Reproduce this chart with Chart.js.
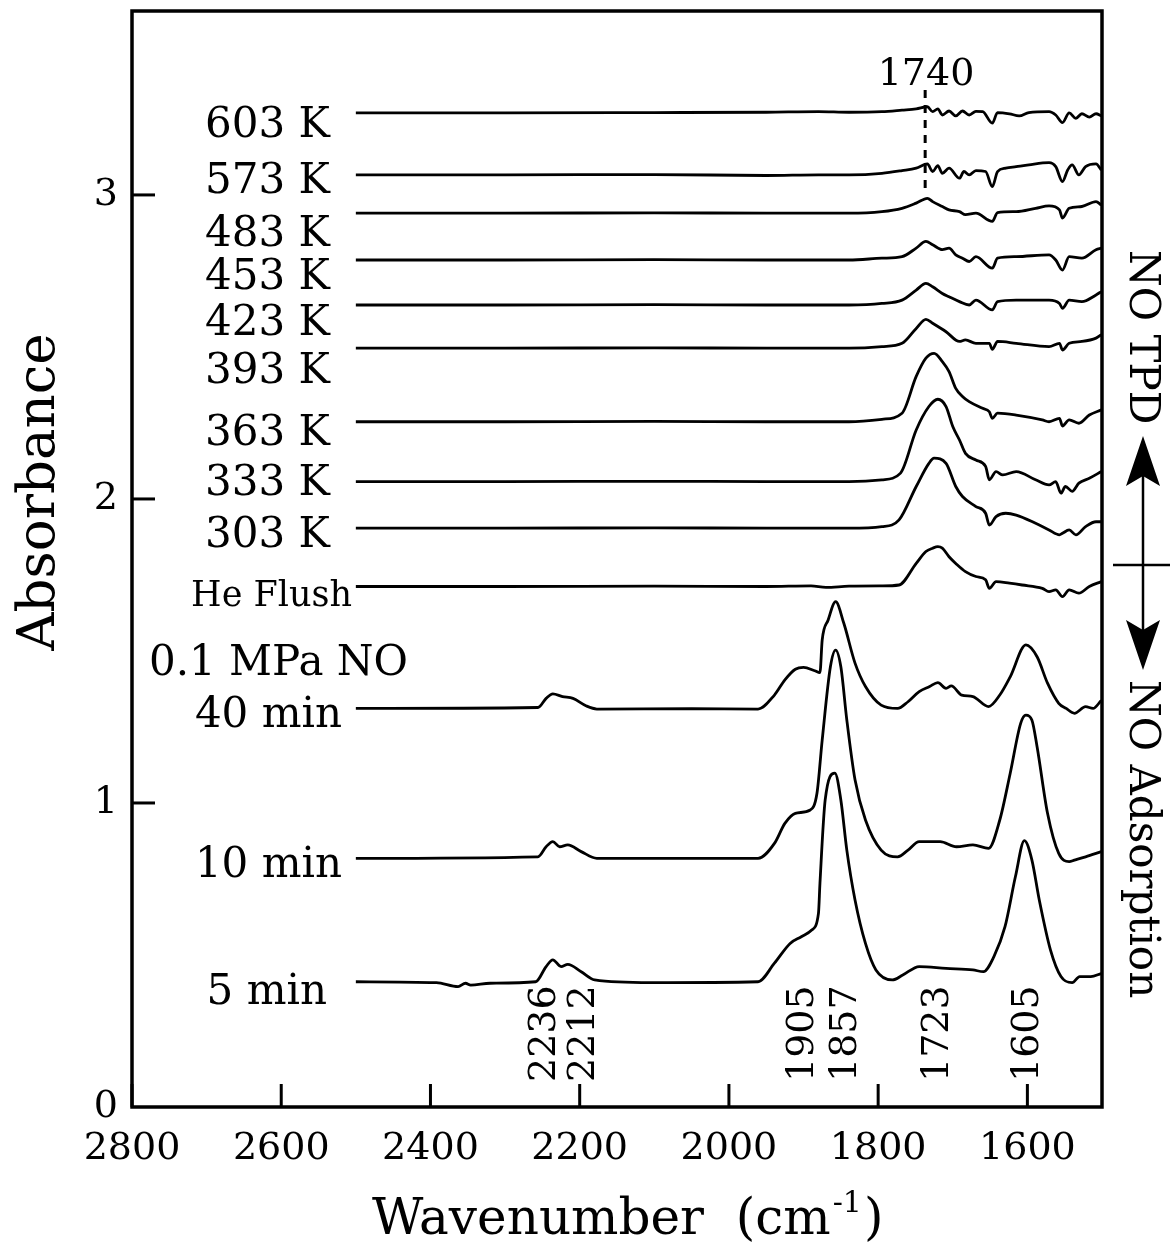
<!DOCTYPE html>
<html>
<head>
<meta charset="utf-8">
<script src="https://cdn.jsdelivr.net/npm/chart.js@4.4.1/dist/chart.umd.min.js"></script>
<style>
  html, body { margin: 0; padding: 0; background: #fff; }
  #wrap { width: 1170px; height: 1254px; }
</style>
</head>
<body>
<div id="wrap"><canvas id="chart" width="1170" height="1254"></canvas></div>
<script>
// axis ticks
const WN_TICKS = [2800, 2600, 2400, 2200, 2000, 1800, 1600];
const ABS_TICKS = [0, 1, 2, 3];

// spectrum names, top to bottom
const SERIES_LABELS = ["603 K", "573 K", "483 K", "453 K", "423 K", "393 K", "363 K",
  "333 K", "303 K", "He Flush", "40 min", "10 min", "5 min"];
const GROUP_LABEL = "0.1 MPa NO";
const PEAK_LABELS = ["2236", "2212", "1905", "1857", "1723", "1605"];

// [wavenumber, absorbance]
const k603 = [[2500,3.270],[2300,3.270],[2100,3.271],[1950,3.272],[1880,3.274],[1839,3.272],[1795,3.274],[1768,3.279],[1749,3.283],[1734,3.290],[1727,3.274],[1720,3.283],[1714,3.263],[1705,3.276],[1696,3.260],[1687,3.276],[1678,3.263],[1669,3.275],[1660,3.274],[1647,3.236],[1640,3.271],[1624,3.267],[1611,3.260],[1598,3.271],[1571,3.274],[1562,3.263],[1553,3.238],[1544,3.270],[1535,3.252],[1527,3.267],[1517,3.256],[1508,3.267],[1501,3.260]];
const k573 = [[2500,3.066],[2300,3.066],[2100,3.067],[1950,3.064],[1880,3.066],[1839,3.066],[1795,3.071],[1768,3.080],[1749,3.088],[1734,3.102],[1727,3.077],[1720,3.096],[1714,3.071],[1705,3.088],[1691,3.055],[1685,3.077],[1678,3.066],[1669,3.080],[1656,3.077],[1647,3.027],[1640,3.077],[1629,3.088],[1615,3.093],[1598,3.099],[1571,3.106],[1562,3.093],[1553,3.044],[1546,3.082],[1540,3.099],[1531,3.066],[1522,3.093],[1508,3.102],[1501,3.082]];
const k483 = [[2500,2.940],[2300,2.940],[2100,2.941],[1950,2.940],[1839,2.940],[1795,2.945],[1768,2.956],[1749,2.973],[1734,2.989],[1727,2.978],[1714,2.962],[1705,2.951],[1691,2.945],[1683,2.935],[1669,2.940],[1647,2.913],[1640,2.942],[1615,2.945],[1589,2.956],[1571,2.964],[1557,2.951],[1553,2.924],[1544,2.956],[1527,2.962],[1508,2.978],[1501,2.967]];
const k453 = [[2500,2.786],[2300,2.786],[2100,2.787],[1950,2.786],[1839,2.786],[1795,2.792],[1768,2.797],[1749,2.825],[1736,2.847],[1727,2.836],[1714,2.820],[1705,2.825],[1696,2.803],[1687,2.792],[1678,2.781],[1669,2.797],[1647,2.759],[1640,2.792],[1615,2.797],[1571,2.803],[1562,2.786],[1553,2.753],[1544,2.797],[1527,2.792],[1508,2.820],[1501,2.825]];
const k423 = [[2500,2.638],[2300,2.638],[2100,2.639],[1950,2.638],[1839,2.638],[1795,2.643],[1768,2.654],[1749,2.687],[1736,2.709],[1727,2.698],[1714,2.676],[1705,2.665],[1691,2.649],[1678,2.638],[1669,2.654],[1647,2.622],[1640,2.649],[1615,2.654],[1571,2.654],[1557,2.643],[1553,2.627],[1544,2.654],[1527,2.649],[1508,2.671],[1501,2.682]];
const k393 = [[2500,2.496],[2300,2.496],[2100,2.497],[1950,2.496],[1839,2.496],[1795,2.501],[1768,2.512],[1749,2.561],[1736,2.591],[1727,2.578],[1709,2.550],[1691,2.518],[1683,2.523],[1669,2.512],[1651,2.512],[1647,2.492],[1640,2.518],[1615,2.512],[1571,2.501],[1557,2.512],[1553,2.490],[1544,2.512],[1527,2.518],[1508,2.529],[1501,2.540]];
const k363 = [[2500,2.254],[2300,2.254],[2100,2.255],[1950,2.254],[1839,2.254],[1795,2.262],[1768,2.282],[1749,2.403],[1736,2.463],[1725,2.479],[1714,2.452],[1705,2.419],[1696,2.364],[1687,2.337],[1678,2.320],[1660,2.298],[1651,2.287],[1647,2.265],[1640,2.282],[1615,2.276],[1580,2.260],[1571,2.254],[1557,2.265],[1553,2.240],[1544,2.260],[1531,2.249],[1517,2.276],[1501,2.293]];
const k333 = [[2500,2.057],[2300,2.057],[2100,2.058],[1950,2.057],[1839,2.057],[1795,2.063],[1770,2.085],[1749,2.227],[1732,2.304],[1720,2.328],[1709,2.304],[1700,2.238],[1691,2.194],[1683,2.150],[1669,2.128],[1656,2.107],[1651,2.063],[1642,2.090],[1633,2.079],[1615,2.090],[1589,2.063],[1571,2.046],[1562,2.057],[1555,2.019],[1549,2.041],[1540,2.025],[1531,2.052],[1517,2.068],[1501,2.090]];
const k303 = [[2500,1.904],[2300,1.904],[2100,1.905],[1950,1.904],[1839,1.904],[1795,1.909],[1772,1.931],[1749,2.041],[1732,2.117],[1725,2.134],[1709,2.117],[1696,2.041],[1687,2.008],[1669,1.975],[1656,1.953],[1651,1.914],[1642,1.942],[1629,1.953],[1615,1.947],[1589,1.920],[1571,1.898],[1557,1.882],[1553,1.887],[1544,1.898],[1535,1.882],[1522,1.909],[1508,1.925],[1501,1.925]];
const heFlush = [[2500,1.712],[2300,1.712],[2100,1.713],[1950,1.712],[1890,1.714],[1870,1.709],[1839,1.713],[1795,1.714],[1772,1.717],[1749,1.788],[1736,1.827],[1727,1.838],[1720,1.843],[1714,1.838],[1705,1.810],[1696,1.788],[1683,1.761],[1669,1.745],[1656,1.734],[1651,1.706],[1642,1.728],[1624,1.723],[1607,1.717],[1580,1.706],[1571,1.695],[1562,1.701],[1553,1.679],[1544,1.701],[1531,1.690],[1517,1.712],[1501,1.728]];
const min40 = [[2500,1.311],[2256,1.314],[2245,1.344],[2236,1.359],[2223,1.350],[2209,1.344],[2191,1.319],[2177,1.309],[2050,1.310],[1961,1.309],[1939,1.355],[1925,1.405],[1911,1.440],[1900,1.446],[1885,1.435],[1878,1.429],[1875,1.536],[1867,1.602],[1857,1.662],[1846,1.591],[1831,1.460],[1817,1.383],[1796,1.322],[1774,1.311],[1760,1.333],[1745,1.366],[1731,1.383],[1720,1.396],[1709,1.377],[1702,1.385],[1688,1.355],[1673,1.350],[1652,1.317],[1637,1.355],[1623,1.415],[1602,1.520],[1587,1.481],[1573,1.394],[1558,1.328],[1548,1.311],[1537,1.295],[1522,1.317],[1512,1.311],[1501,1.337]];
const min10 = [[2500,0.818],[2256,0.823],[2245,0.856],[2236,0.873],[2227,0.856],[2216,0.862],[2198,0.840],[2177,0.818],[2050,0.818],[1961,0.818],[1939,0.867],[1925,0.933],[1911,0.966],[1891,0.977],[1882,1.032],[1875,1.207],[1864,1.448],[1857,1.503],[1850,1.448],[1842,1.273],[1831,1.076],[1817,0.944],[1796,0.845],[1774,0.823],[1760,0.845],[1745,0.873],[1717,0.873],[1695,0.856],[1673,0.862],[1652,0.851],[1637,0.944],[1623,1.098],[1609,1.262],[1602,1.289],[1594,1.273],[1587,1.185],[1573,0.966],[1558,0.834],[1544,0.807],[1537,0.812],[1522,0.823],[1501,0.840]];
const min5 = [[2500,0.412],[2392,0.409],[2363,0.396],[2353,0.407],[2346,0.401],[2320,0.407],[2259,0.412],[2245,0.462],[2236,0.484],[2225,0.462],[2216,0.469],[2198,0.445],[2180,0.418],[2105,0.409],[1961,0.412],[1939,0.473],[1918,0.538],[1903,0.560],[1889,0.582],[1880,0.637],[1878,0.736],[1871,1.010],[1858,1.098],[1850,1.010],[1842,0.845],[1831,0.681],[1817,0.538],[1803,0.451],[1781,0.418],[1767,0.434],[1745,0.462],[1709,0.456],[1673,0.451],[1659,0.445],[1645,0.494],[1630,0.593],[1616,0.758],[1604,0.876],[1594,0.813],[1584,0.680],[1569,0.516],[1555,0.429],[1540,0.409],[1530,0.429],[1515,0.429],[1501,0.439]];

const SPECTRA = [k603, k573, k483, k453, k423, k393, k363, k333, k303, heFlush, min40, min10, min5];
const MARK_1740 = [1737, 3.016, 3.345];   // wavenumber, from, to

const SERIF = "'DejaVu Serif', serif";

// label layout: [right x, baseline y, font size]
const LABEL_LAYOUT = [
  [330,137,42],[330,193,42],[330,246,42],[330,289,42],[330,335,42],[330,383,42],[330,445,42],
  [330,495,42],[330,547,42],[352,606,35],[342,727,42],[342,877,42],[327,1004,42]
];
const PEAK_X = [541, 580, 799, 842, 934, 1024];

function line(ctx, x1, y1, x2, y2) {
  ctx.beginPath(); ctx.moveTo(x1, y1); ctx.lineTo(x2, y2); ctx.stroke();
}

const overlay = {
  id: "overlay",
  afterDatasetsDraw(chart) {
    const { ctx, chartArea: a, scales: { x, y } } = chart;
    ctx.save();
    ctx.strokeStyle = "#000";
    ctx.fillStyle = "#000";

    // frame + inner ticks
    ctx.lineWidth = 3.5;
    ctx.strokeRect(a.left, a.top, a.right - a.left, a.bottom - a.top);
    ctx.lineWidth = 3;
    WN_TICKS.forEach(v => { const px = x.getPixelForValue(v); line(ctx, px, a.bottom, px, a.bottom - 23); });
    ABS_TICKS.slice(1).forEach(v => { const py = y.getPixelForValue(v); line(ctx, a.left, py, a.left + 23, py); });

    // dashed 1740 marker
    const mx = x.getPixelForValue(MARK_1740[0]);
    ctx.setLineDash([8, 7]);
    ctx.lineWidth = 3;
    line(ctx, mx, y.getPixelForValue(MARK_1740[2]), mx, y.getPixelForValue(MARK_1740[1]));
    ctx.setLineDash([]);
    ctx.font = "38px " + SERIF;
    ctx.textAlign = "center";
    ctx.textBaseline = "alphabetic";
    ctx.fillText("1740", 926, 85);

    // spectrum labels
    ctx.textAlign = "right";
    SERIES_LABELS.forEach((t, i) => {
      const [rx, by, fs] = LABEL_LAYOUT[i];
      ctx.font = fs + "px " + SERIF;
      ctx.fillText(t, rx, by);
    });
    ctx.font = "42px " + SERIF;
    ctx.fillText(GROUP_LABEL, 408, 675);

    // peak positions, rotated
    ctx.font = "38px " + SERIF;
    ctx.textAlign = "left";
    PEAK_LABELS.forEach((t, i) => {
      ctx.save();
      ctx.translate(PEAK_X[i] + 14, 1082);
      ctx.rotate(-Math.PI / 2);
      ctx.fillText(t, 0, 0);
      ctx.restore();
    });

    // axis titles
    ctx.save();
    ctx.font = "53px " + SERIF;
    ctx.textAlign = "center";
    ctx.translate(54, 492);
    ctx.rotate(-Math.PI / 2);
    ctx.fillText("Absorbance", 0, 0);
    ctx.restore();

    ctx.font = "50px " + SERIF;
    ctx.textAlign = "left";
    let tx = 372;
    ctx.fillText("Wavenumber  (cm", tx, 1234);
    tx += ctx.measureText("Wavenumber  (cm").width + 2;
    ctx.font = "30px " + SERIF;
    ctx.fillText("-1", tx, 1212);
    tx += ctx.measureText("-1").width + 2;
    ctx.font = "50px " + SERIF;
    ctx.fillText(")", tx, 1234);

    // right side: TPD / adsorption arrows
    ctx.font = "42px " + SERIF;
    [["NO TPD", 250], ["NO Adsorption", 680]].forEach(([t, sy]) => {
      ctx.save();
      ctx.translate(1130, sy);
      ctx.rotate(Math.PI / 2);
      ctx.fillText(t, 0, 0);
      ctx.restore();
    });
    ctx.lineWidth = 2.5;
    line(ctx, 1143, 470, 1143, 640);
    line(ctx, 1113, 565, 1170, 565);
    ctx.beginPath();
    ctx.moveTo(1143, 436); ctx.lineTo(1126, 486); ctx.lineTo(1143, 476); ctx.lineTo(1160, 486); ctx.closePath();
    ctx.fill();
    ctx.beginPath();
    ctx.moveTo(1143, 670); ctx.lineTo(1126, 620); ctx.lineTo(1143, 630); ctx.lineTo(1160, 620); ctx.closePath();
    ctx.fill();

    ctx.restore();
  }
};

new Chart(document.getElementById("chart"), {
  type: "scatter",
  data: {
    datasets: SPECTRA.map((s, i) => ({
      label: SERIES_LABELS[i],
      data: s.map(([w, v]) => ({ x: w, y: v })),
      showLine: true,
      borderColor: "#000",
      borderWidth: 2.8,
      pointRadius: 0,
      cubicInterpolationMode: "monotone",
      fill: false
    }))
  },
  options: {
    responsive: false,
    animation: false,
    layout: { padding: { top: 11, right: 68, left: 0, bottom: 0 } },
    plugins: { legend: { display: false }, tooltip: { enabled: false } },
    scales: {
      x: {
        type: "linear",
        reverse: true,
        min: 1500,
        max: 2800,
        afterBuildTicks: s => { s.ticks = WN_TICKS.map(v => ({ value: v })); },
        afterFit: s => { s.height = 147; s.paddingLeft = 0; s.paddingRight = 0; },
        grid: { display: true, drawOnChartArea: false, drawTicks: false },
        border: { display: false },
        ticks: { color: "#000", font: { family: SERIF, size: 38 }, padding: 19, maxRotation: 0, autoSkip: false,
          callback: v => String(v) }
      },
      y: {
        min: 0,
        max: 3.605,
        afterBuildTicks: s => { s.ticks = ABS_TICKS.map(v => ({ value: v })); },
        afterFit: s => { s.width = 132; s.paddingTop = 0; s.paddingBottom = 0; },
        grid: { display: true, drawOnChartArea: false, drawTicks: false },
        border: { display: false },
        ticks: { color: "#000", font: { family: SERIF, size: 38 }, padding: 14, callback: v => String(v) }
      }
    }
  },
  plugins: [overlay]
});
</script>
</body>
</html>
